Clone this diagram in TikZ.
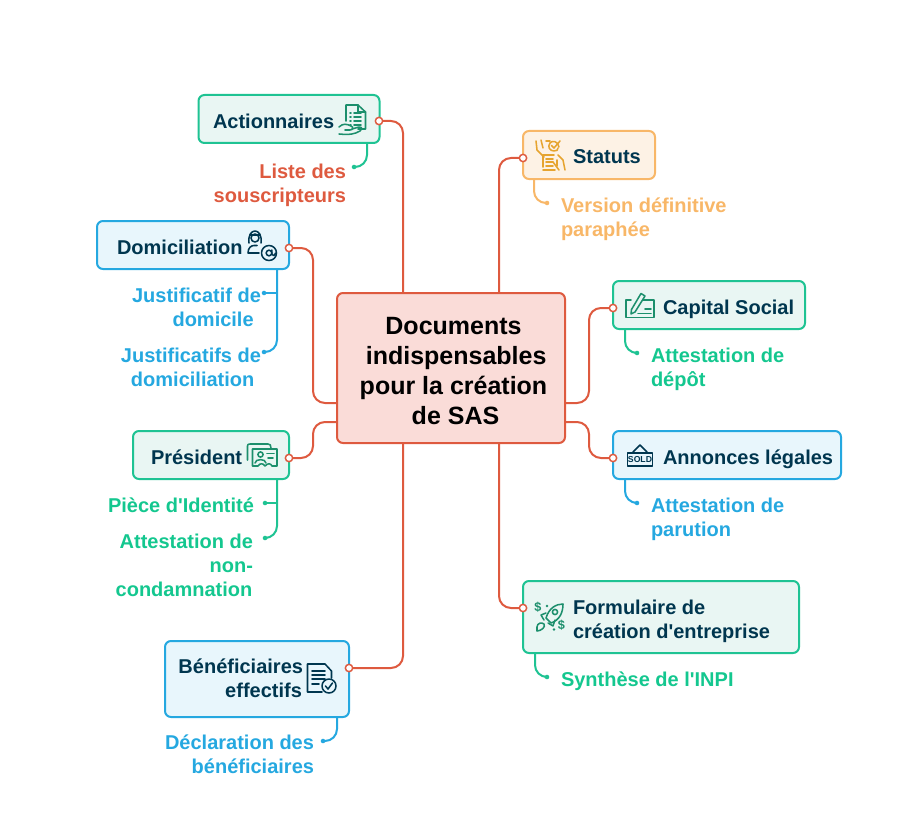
\documentclass[tikz,border=0pt]{standalone}
\usepackage{fontspec}
\setmainfont{Liberation Sans}
\newfontfamily\lsans{Liberation Sans}
\definecolor{navy}{HTML}{00364F}
\definecolor{cred}{HTML}{DE5A3F}
\definecolor{redfill}{HTML}{FADCD8}
\definecolor{cgreen}{HTML}{1FC393}
\definecolor{greenfill}{HTML}{E9F6F3}
\definecolor{tgreen}{HTML}{14C78F}
\definecolor{igreen}{HTML}{1C8F6C}
\definecolor{cblue}{HTML}{25A8E0}
\definecolor{bluefill}{HTML}{E8F6FC}
\definecolor{corange}{HTML}{F8B768}
\definecolor{orangefill}{HTML}{FDF2E5}
\definecolor{iorange}{HTML}{E6A42F}
\tikzset{
  x=0.75pt,y=-0.75pt,
  boxbase/.style={draw,line width=1.5pt,rounded corners=4.5pt,inner sep=0pt,outer sep=0pt},
  greenbox/.style={boxbase,draw=cgreen,fill=greenfill},
  bluebox/.style={boxbase,draw=cblue,fill=bluefill},
  orangebox/.style={boxbase,draw=corange,fill=orangefill},
  centerbox/.style={boxbase,draw=cred,fill=redfill},
  lbl/.style={font=\lsans\fontsize{15}{18}\selectfont\bfseries,inner sep=0pt,outer sep=0pt},
  title/.style={lbl,text=navy,align=left},
  subl/.style={lbl,align=left},
  subr/.style={lbl,align=right},
  centertext/.style={font=\lsans\fontsize{18.75}{22.5}\selectfont\bfseries,inner sep=0pt,text=black,align=center},
  port/.style={circle,draw=cred,fill=white,line width=1.1pt,minimum size=5.5pt,inner sep=0pt,outer sep=0pt},
  tip/.style={circle,fill=#1,minimum size=3.4pt,inner sep=0pt,outer sep=0pt},
  trunk/.style={draw=cred,line width=1.5pt,rounded corners=9pt},
  twig/.style={draw=#1,line width=1.5pt,rounded corners=9pt},
  ico/.style={draw=#1,line width=1.15pt,line cap=round,line join=round},
}
\begin{document}
\begin{tikzpicture}
\useasboundingbox (0,0) rectangle (902,820);
% boxes
\node[centerbox,minimum width=171pt,minimum height=112.5pt] (ctr) at (451,368) {};
\node[greenbox,minimum width=135.75pt,minimum height=36pt] (act) at (289,119) {};
\node[bluebox,minimum width=144pt,minimum height=36pt] (dom) at (193,245) {};
\node[greenbox,minimum width=117pt,minimum height=36pt] (pre) at (211,455) {};
\node[bluebox,minimum width=138pt,minimum height=57pt] (ben) at (257,679) {};
\node[orangebox,minimum width=99pt,minimum height=36pt] (sta) at (589,155) {};
\node[greenbox,minimum width=144pt,minimum height=36pt] (cap) at (709,305) {};
\node[bluebox,minimum width=171pt,minimum height=36pt] (ann) at (727,455) {};
\node[greenbox,minimum width=207pt,minimum height=54pt] (frm) at (661,617) {};
% ports
\node[port] (pact) at (379,121) {};
\node[port] (pdom) at (289,248) {};
\node[port] (ppre) at (289,458) {};
\node[port] (pben) at (349,668) {};
\node[port] (psta) at (523,158) {};
\node[port] (pcap) at (613,308) {};
\node[port] (pann) at (613,458) {};
\node[port] (pfrm) at (523,608) {};
% titles
\node[title,anchor=base west] (tact) at (213,128) {Actionnaires};
\node[title,anchor=base west] (tdom) at (117,254) {Domiciliation};
\node[title,anchor=base west] (tpre) at (151,464) {Président};
\node[title,anchor=base east,align=right] (tben) at (303,697) {Bénéficiaires\\effectifs\hspace*{0.8pt}};
\node[title,anchor=base west] (tsta) at (573,164) {Statuts};
\node[title,anchor=base west] (tcap) at (663,314) {Capital Social};
\node[title,anchor=base west] (tann) at (663,464) {Annonces légales};
\node[title,anchor=base west] (tfrm) at (573,638) {Formulaire de\\création d'entreprise};
\node[centertext,anchor=base] (tctr) at (453.5,424) {\hspace*{0pt}Documents\\\hspace*{4pt}indispensables\\pour la création\\\hspace*{3pt}de SAS};
% children
\node[subr,text=cred,anchor=base east] (lact) at (346,202) {Liste des\\souscripteurs};
\node[subr,text=cblue,anchor=base east] (ldoma) at (261,326) {Justificatif de\\domicile\hspace*{5.5pt}};
\node[subr,text=cblue,anchor=base east] (ldomb) at (261,386) {Justificatifs de\\domiciliation\hspace*{5pt}};
\node[subr,text=tgreen,anchor=base east] (lprea) at (254,512) {Pièce d'Identité};
\node[subr,text=tgreen,anchor=base east] (lpreb) at (253,596) {Attestation de\\non-\hspace*{1pt}\\condamnation\hspace*{0.5pt}};
\node[subr,text=cblue,anchor=base east] (lben) at (314,773) {Déclaration des\\bénéficiaires};
\node[subl,text=corange,anchor=base west] (lsta) at (561,236) {Version définitive\\paraphée};
\node[subl,text=tgreen,anchor=base west] (lcap) at (651,386) {Attestation de\\dépôt};
\node[subl,text=cblue,anchor=base west] (lann) at (651,536) {Attestation de\\parution};
\node[subl,text=tgreen,anchor=base west] (lfrm) at (561,686) {Synthèse de l'INPI};
% tips
\node[tip=cgreen] (dact) at (354,167) {};
\node[tip=cblue] (ddoma) at (264,293) {};
\node[tip=cblue] (ddomb) at (264,352) {};
\node[tip=cgreen] (dprea) at (265,503) {};
\node[tip=cgreen] (dpreb) at (265,538) {};
\node[tip=cblue] (dben) at (323,741) {};
\node[tip=corange] (dsta) at (547,203) {};
\node[tip=cgreen] (dcap) at (637,353) {};
\node[tip=cblue] (dann) at (637,503) {};
\node[tip=cgreen] (dfrm) at (547,677) {};
% anchors on the boxes
\coordinate (cN1) at (403,293);
\coordinate (cN2) at (499,293);
\coordinate (cS1) at (403,443);
\coordinate (cS2) at (499,443);
\coordinate (cW1) at (337,403);
\coordinate (cW2) at (337,422);
\coordinate (cE1) at (565,403);
\coordinate (cE2) at (565,422);
\coordinate (kW) at (313,300);
\coordinate (kE) at (589,300);
\coordinate (sact) at (367,143);
\coordinate (sdom) at (277,269);
\coordinate (spre) at (277,479);
\coordinate (sben) at (337,717);
\coordinate (ssta) at (534,179);
\coordinate (scap) at (625,329);
\coordinate (sann) at (625,479);
\coordinate (sfrm) at (535,653);
% trunks
\draw[trunk] (cN1) |- (pact);
\draw[trunk] (cN2) |- (psta);
\draw[trunk] (cS1) |- (pben);
\draw[trunk] (cS2) |- (pfrm);
\draw[trunk] (cW1) -- (kW |- cW1) -- (kW |- pdom) -- (pdom);
\draw[trunk] (cW2) -- (kW |- cW2) -- (kW |- ppre) -- (ppre);
\draw[trunk] (cE1) -- (kE |- cE1) -- (kE |- pcap) -- (pcap);
\draw[trunk] (cE2) -- (kE |- cE2) -- (kE |- pann) -- (pann);
% twigs
\draw[twig=cgreen] (sact) |- (dact);
\draw[twig=cblue] (sdom) |- (ddomb);
\draw[twig=cblue,rounded corners=0pt] (sdom |- ddoma) -- (ddoma);
\draw[twig=cgreen] (spre) |- (dpreb);
\draw[twig=cgreen,rounded corners=0pt] (spre |- dprea) -- (dprea);
\draw[twig=cblue] (sben) |- (dben);
\draw[twig=corange] (ssta) |- (dsta);
\draw[twig=cgreen] (scap) |- (dcap);
\draw[twig=cblue] (sann) |- (dann);
\draw[twig=cgreen] (sfrm) |- (dfrm);
% icon: Actionnaires
\draw[ico=igreen] (346,121) -- (346,105) -- (358,105) -- (365.5,112) -- (365.5,129) -- (358,129);
\draw[ico=igreen] (358,105) -- (358,112) -- (365.5,112);
\foreach \yy in {113,117,121,125}{\draw[ico=igreen] (350,\yy) -- (351,\yy) (354,\yy) -- (361,\yy);}
\draw[ico=igreen] (339,127) .. controls (343,123) and (347,124) .. (351,126) .. controls (354,127) and (353,130) .. (350,130) -- (345,130);
\draw[ico=igreen] (352,129) -- (359,127) .. controls (363,127) and (362,130) .. (360,131) .. controls (355,134) and (350,135) .. (339,134);
% icon: Domiciliation
\draw[ico=navy] (255,238) circle (4);
\draw[ico=navy] (249,243) .. controls (247,227) and (263,227) .. (261,243);
\draw[ico=navy] (250,235) -- (260,235);
\draw[ico=navy] (248,253) .. controls (248,248) and (251,245.5) .. (254,245.5) -- (257,245.5) (248,253) -- (259,253);
\draw[ico=navy] (269,253) circle (7.5);
\draw[ico=navy] (269,253) circle (2.8);
\draw[ico=navy] (271.8,250) -- (271.8,254) .. controls (272,256.5) and (275,256) .. (275.5,253);
% icon: Statuts
\draw[ico=iorange] (543,167) -- (543,155) -- (554,155);
\draw[ico=iorange] (543,170) -- (555,170) (557,160) -- (557,166);
\foreach \yy in {159,162,166}{\draw[ico=iorange] (546,\yy) -- (553,\yy);}
\draw[ico=iorange] (559,147) .. controls (558,141) and (552,140) .. (550,143) .. controls (547,147) and (550,151) .. (554,151) .. controls (557,151) and (558,150) .. (558,148);
\draw[ico=iorange] (551.5,145.5) -- (554,148) -- (560,141);
\draw[ico=iorange] (536,141) -- (537,150) -- (544,157) (541,140) -- (543,148) (546,141) -- (550,141);
\draw[ico=iorange] (558,155) -- (563,160) -- (565,170) (553,162) -- (559,170);
% icon: Capital Social
\draw[ico=igreen] (631,300) -- (626,300) -- (626,317.5) -- (654,317.5) -- (654,300) -- (643,300);
\draw[ico=igreen] (641,293.5) -- (645,296) -- (635,312) -- (631,314) -- (631.5,309.5) -- cycle;
\draw[ico=igreen] (638,313.5) -- (651,313.5) (645,309) -- (651,309);
% icon: Annonces legales
\draw[ico=navy] (627.5,453) rectangle (652.5,466);
\draw[ico=navy] (633,452) -- (640,445) -- (647,452);
\node[font=\lsans\fontsize{6.5}{8}\selectfont\bfseries,text=navy,inner sep=0pt] (sold) at (640,459.7) {SOLD};
% icon: President
\draw[ico=igreen] (247.5,460) -- (247.5,446) .. controls (247.5,444.5) and (248,444) .. (250,444) -- (268,444) .. controls (270,444) and (271,445) .. (271,448);
\draw[ico=igreen] (252.5,449) -- (277,449) -- (277,466) -- (272,466) .. controls (270.5,463) and (268,463) .. (265,466) .. controls (263,463) and (260,463) .. (258,466) -- (252.5,466) -- cycle;
\draw[ico=igreen] (260.5,454.5) circle (2.6);
\draw[ico=igreen] (255,463) .. controls (255,458.5) and (266,458.5) .. (266,463);
\draw[ico=igreen] (267,453.5) -- (274,453.5) (268,458) -- (273,458);
% icon: Beneficiaires
\draw[ico=navy] (322,692) -- (307.5,692) -- (307.5,664) -- (325,664) -- (331.5,671) -- (331.5,678);
\foreach \yy in {671,675,679}{\draw[ico=navy] (312,\yy) -- (325,\yy);}
\draw[ico=navy] (312,684) -- (319,684);
\draw[ico=navy] (329,686) circle (7);
\draw[ico=navy] (325.5,686) -- (328,689) -- (332.5,683);
% icon: Formulaire
\draw[ico=igreen] (563,604) .. controls (556,604) and (549,608) .. (546,618) -- (551,623) .. controls (560,620) and (563,612) .. (563,604) -- cycle;
\draw[ico=igreen] (555,612) circle (2.6);
\draw[ico=igreen] (546,613) -- (541,615) -- (544,620) (555,620) -- (553,626) -- (548,623);
\draw[ico=igreen] (537,627) .. controls (537,623) and (542,622) .. (544,624) .. controls (546,627) and (541,631) .. (537,631) -- cycle;
\node[font=\lsans\fontsize{9.5}{10}\selectfont\bfseries,text=igreen,inner sep=0pt] (da) at (538,607) {\$};
\node[font=\lsans\fontsize{9.5}{10}\selectfont\bfseries,text=igreen,inner sep=0pt] (db) at (561.5,625) {\$};
\fill[igreen] (547,606) circle (1.4) (554,629.5) circle (1.4);
\end{tikzpicture}
\end{document}
